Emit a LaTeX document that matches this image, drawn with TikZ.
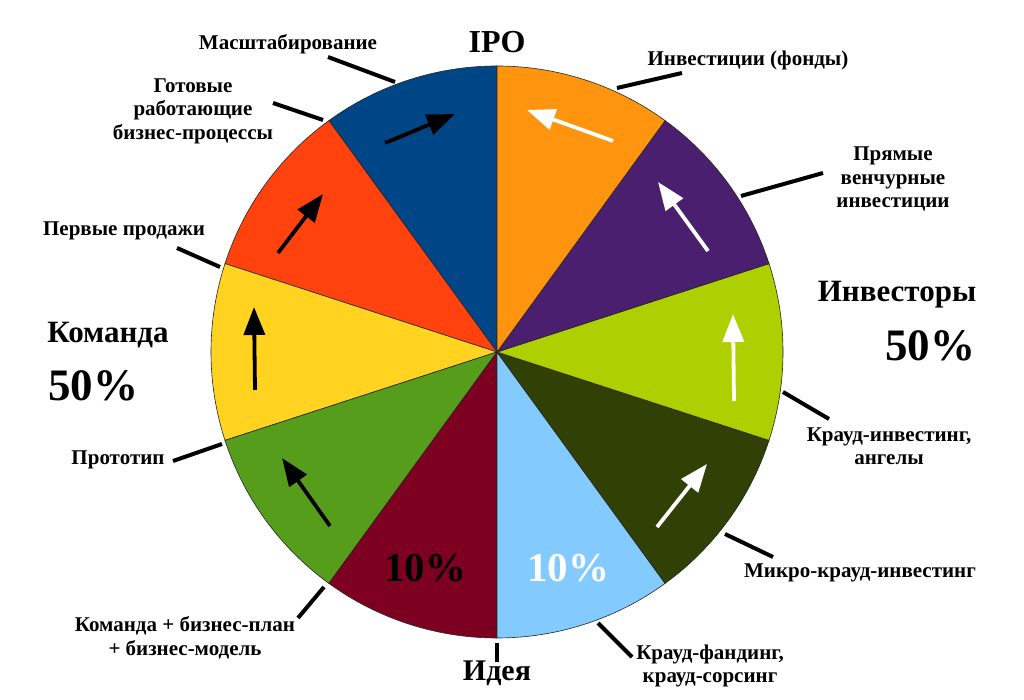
\documentclass[tikz,border=0pt]{standalone}
\usepackage{fontspec}
\setmainfont{Liberation Serif}
\usetikzlibrary{arrows.meta}
\definecolor{cBlue}{HTML}{004586}
\definecolor{cOrange}{HTML}{FF950E}
\definecolor{cPurple}{HTML}{4B1F6F}
\definecolor{cLime}{HTML}{AECF00}
\definecolor{cOlive}{HTML}{314004}
\definecolor{cSky}{HTML}{83CAFF}
\definecolor{cWine}{HTML}{7E0021}
\definecolor{cGreen}{HTML}{579D1C}
\definecolor{cYellow}{HTML}{FFD320}
\definecolor{cRed}{HTML}{FF420E}
\begin{document}
\begin{tikzpicture}[x=1pt,y=1pt,
  slice/.style={draw=black!85,line width=0.6pt},
  lead/.style={line width=4pt},
  lbl/.style={font=\fontsize{21}{23.5}\selectfont\bfseries, align=center, inner sep=0pt},
  biglbl/.style={font=\fontsize{31}{33}\selectfont\bfseries, inner sep=0pt},
  pct/.style={font=\fontsize{45}{47}\selectfont\bfseries, inner sep=0pt},
  inpct/.style={font=\fontsize{41}{43}\selectfont\bfseries, inner sep=0pt},
  arr/.style={line width=3.8pt, -{Triangle[length=28pt,width=21pt]}},
]
\useasboundingbox (0,0) rectangle (1024,700);
\fill[white] (0,0) rectangle (1024,700);
\coordinate (O) at (497,348);
% pie slices
\foreach \a/\b/\c in {90/126/cBlue,126/162/cRed,162/198/cYellow,198/234/cGreen,234/270/cWine,270/306/cSky,306/342/cOlive,342/378/cLime,18/54/cPurple,54/90/cOrange}{
  \filldraw[slice,fill=\c] (O) -- ++(\a:286) arc[start angle=\a,end angle=\b,radius=286] -- cycle;
}
% arrows inside slices
\coordinate (b1) at (385,557); \coordinate (b2) at (455,586);
\coordinate (r1) at (278,447); \coordinate (r2) at (323,506);
\coordinate (y1) at (255,310); \coordinate (y2) at (254,393);
\coordinate (g1) at (330,174); \coordinate (g2) at (282,242);
\coordinate (o1) at (613,559); \coordinate (o2) at (527,590);
\coordinate (p1) at (708,449); \coordinate (p2) at (658,518);
\coordinate (l1) at (734,299); \coordinate (l2) at (733,386);
\coordinate (v1) at (657,173); \coordinate (v2) at (707,236);
\draw[arr,black] (b1) -- (b2);
\draw[arr,black] (r1) -- (r2);
\draw[arr,black] (y1) -- (y2);
\draw[arr,black] (g1) -- (g2);
\draw[arr,white] (o1) -- (o2);
\draw[arr,white] (p1) -- (p2);
\draw[arr,white] (l1) -- (l2);
\draw[arr,white] (v1) -- (v2);
% percentages inside
\node[inpct,text=black] (pw) at (425,132) {10\%};
\node[inpct,text=white] (ps) at (568,132) {10\%};
% titles
\node[biglbl,font=\fontsize{32}{34}\selectfont\bfseries] (ipo) at (497,658) {IPO};
\node[biglbl,font=\fontsize{30}{32}\selectfont\bfseries] (idea) at (497,27) {Идея};
\node[biglbl] (team) at (108,365) {Команда};
\node[pct] (teamp) at (93,314) {50\%};
\node[biglbl] (inv) at (897,405) {Инвесторы};
\node[pct] (invp) at (930,354) {50\%};
% labels
\node[lbl] (scale) at (288,656) {Масштабирование};
\node[lbl] (ready) at (193,589) {Готовые\\работающие\\бизнес-процессы};
\node[lbl] (sales) at (124,469) {Первые продажи};
\node[lbl] (proto) at (118,240) {Прототип};
\node[lbl] (plan) at (185,62) {Команда + бизнес-план\\+ бизнес-модель};
\node[lbl] (crowdf) at (710,34) {Крауд-фандинг,\\крауд-сорсинг};
\node[lbl] (micro) at (860,127) {Микро-крауд-инвестинг};
\node[lbl] (angels) at (889,254) {Крауд-инвестинг,\\ангелы};
\node[lbl] (venture) at (893,521) {Прямые\\венчурные\\инвестиции};
\node[lbl] (funds) at (748,640) {Инвестиции (фонды)};
% leader lines
\coordinate (s1) at (328,643); \coordinate (s2) at (395,618);
\coordinate (re1) at (273,597); \coordinate (re2) at (323,580);
\coordinate (sa1) at (177,452); \coordinate (sa2) at (220,433);
\coordinate (pr1) at (173,239); \coordinate (pr2) at (222,256);
\coordinate (pl1) at (298,82); \coordinate (pl2) at (324,113);
\coordinate (id1) at (497,38); \coordinate (id2) at (497,57);
\coordinate (cf1) at (632,43); \coordinate (cf2) at (598,77);
\coordinate (mi1) at (773,143); \coordinate (mi2) at (725,166);
\coordinate (an1) at (829,281); \coordinate (an2) at (783,308);
\coordinate (ve1) at (823,527); \coordinate (ve2) at (741,504);
\coordinate (fu1) at (682,627); \coordinate (fu2) at (617,612);
\foreach \p/\q in {s1/s2,re1/re2,sa1/sa2,pr1/pr2,pl1/pl2,id1/id2,cf1/cf2,mi1/mi2,an1/an2,ve1/ve2,fu1/fu2}{
  \draw[lead] (\p) -- (\q);
}
\end{tikzpicture}
\end{document}
